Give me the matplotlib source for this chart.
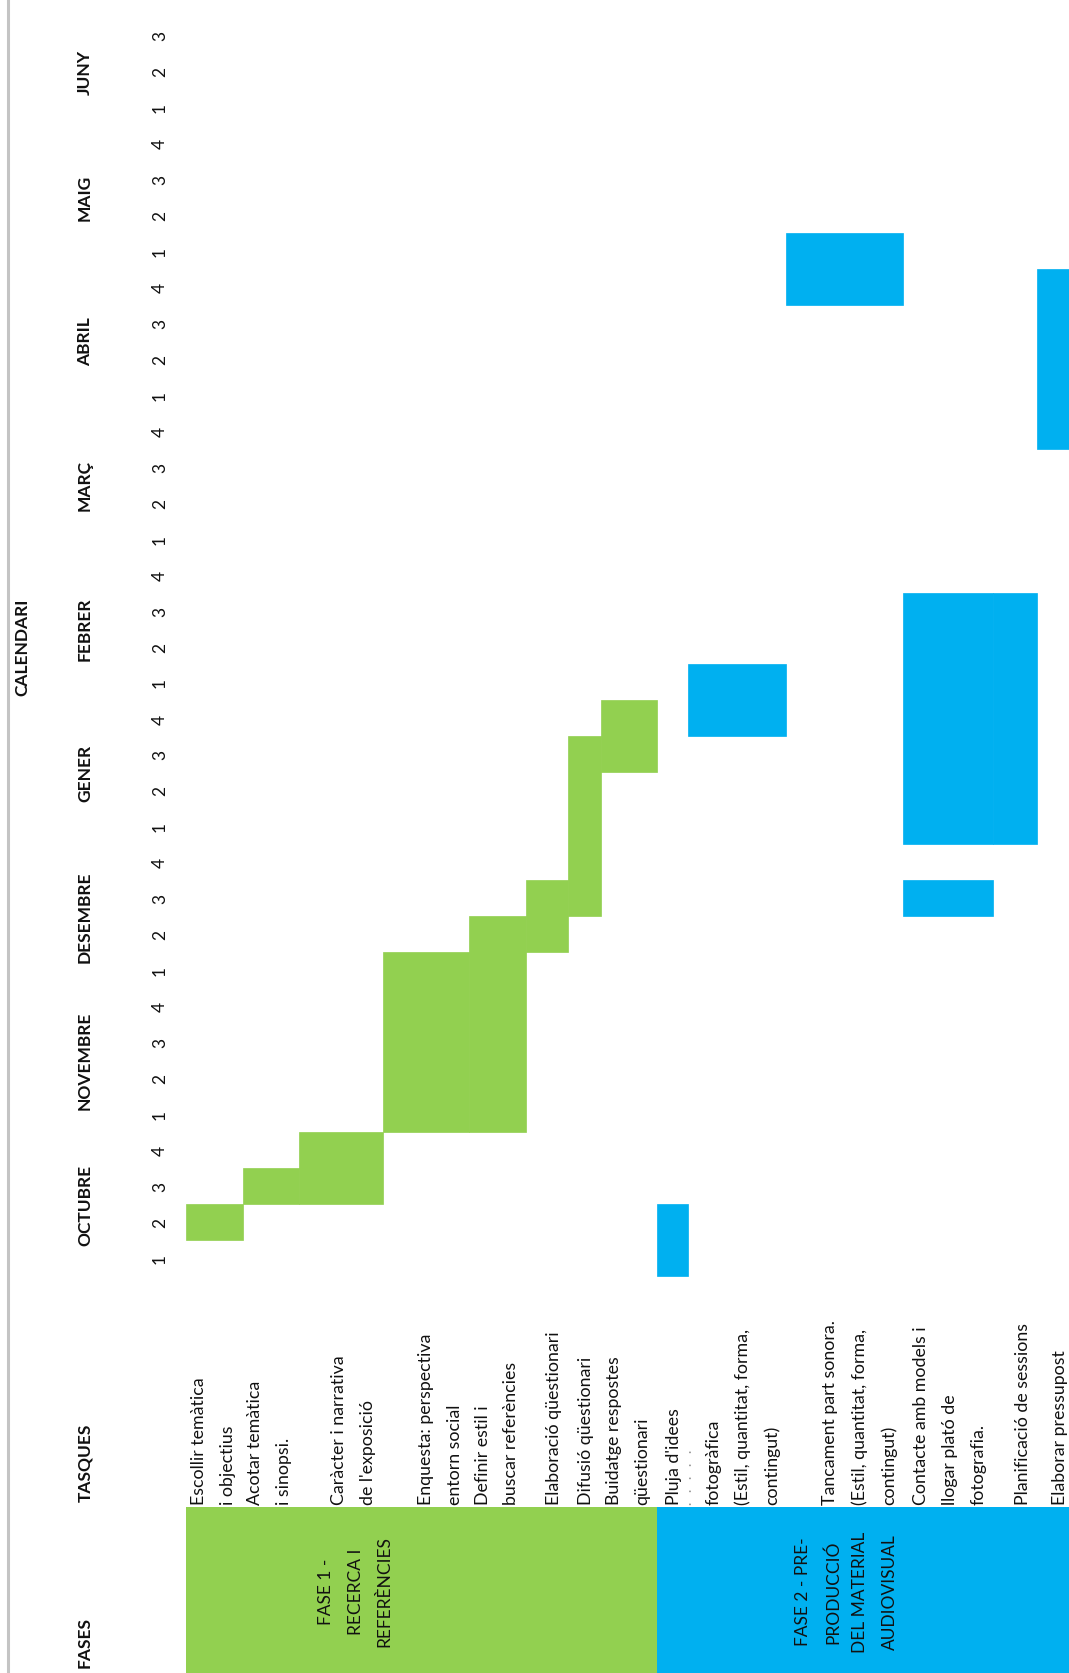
import matplotlib
matplotlib.use("Agg")
from matplotlib import pyplot as plt

plt.rcParams["font.family"] = ["Lato", "DejaVu Sans"]

# ---- data -------------------------------------------------------------
months = ["OCTUBRE", "NOVEMBRE", "DESEMBRE", "GENER", "FEBRER", "MARÇ", "ABRIL", "MAIG", "JUNY"]
weeks_per_month = [4, 4, 4, 4, 4, 4, 4, 4, 3]

phases = ["FASE 1 -\nRECERCA I\nREFERÈNCIES", "FASE 2 - PRE-\nPRODUCCIÓ\nDEL MATERIAL\nAUDIOVISUAL"]
phase_colors = ["#92D050", "#00B0F0"]

tasks = [
    ["Escollir temàtica", "i objectius"],
    ["Acotar temàtica", "i sinopsi."],
    ["Caràcter i narrativa", "de l'exposició"],
    ["Enquesta: perspectiva", "entorn social"],
    ["Definir estil i", "buscar referències"],
    ["Elaboració qüestionari"],
    ["Difusió qüestionari"],
    ["Buidatge respostes", "qüestionari"],
    ["Pluja d'idees"],
    ["fotogràfica", "(Estil, quantitat, forma,", "contingut)"],
    ["Tancament part sonora.", "(Estil, quantitat, forma,", "contingut)"],
    ["Contacte amb models i", "llogar plató de", "fotografia."],
    ["Planificació de sessions"],
    ["Elaborar pressupost"],
]
task_phase = [0, 0, 0, 0, 0, 0, 0, 0, 1, 1, 1, 1, 1, 1]

# (task index, first week, last week) ; week 0 = OCTUBRE 1
bars = [
    (0, 1, 1),
    (1, 2, 2),
    (2, 2, 3),
    (3, 4, 8),
    (4, 4, 9),
    (5, 9, 10),
    (6, 10, 14),
    (7, 14, 15),
    (8, 0, 1),
    (9, 15, 16),
    (10, 27, 28),
    (11, 10, 10),
    (11, 12, 18),
    (12, 12, 18),
    (13, 23, 27),
]

# ---- layout -----------------------------------------------------------
W, H = 1069, 1674
row_edges = [186, 243, 299, 383, 469, 526, 568, 601, 657, 688, 786, 903, 993, 1037, 1075]
W0_PX = 1259.0    # pixel row of week 0
WEEK_PX = 35.97   # pixels per week
LINE_PX = 29.0
TEXT_BASE = 1505  # where task text starts
TABLE_TOP = 1508


def wk(p):
    """pixel row -> week units"""
    return (W0_PX - p) / WEEK_PX


fig = plt.figure(figsize=(W / 100, H / 100), dpi=100)
ax = fig.add_axes([0, 0, 1, 1])
ax.set_xlim(0, W)
ax.set_ylim(wk(H), wk(0))
ax.axis("off")

ax.axvline(8, color="#c4c4c4", lw=2.2)

txt = "#111111"

# phase blocks
for i, (name, col) in enumerate(zip(phases, phase_colors)):
    idx = [k for k, p in enumerate(task_phase) if p == i]
    x0, x1 = row_edges[idx[0]], row_edges[idx[-1] + 1]
    ax.bar((x0 + x1) / 2, wk(TABLE_TOP) - wk(H + 20), bottom=wk(H + 20),
           width=x1 - x0, color=col, linewidth=0)

phase_text_x = [[326, 356, 384], [803, 833, 860, 890]]
for name, xs in zip(phases, phase_text_x):
    for line, x in zip(name.split("\n"), xs):
        ax.text(x, wk(1592), line, rotation=90, ha="center", va="center",
                fontsize=12.5, color=txt)

# task labels (bottom aligned in their cells)
for k, lines in enumerate(tasks):
    right = row_edges[k + 1]
    n = len(lines)
    for j, line in enumerate(lines):
        x = right - LINE_PX / 2 - LINE_PX * (n - 1 - j)
        ax.text(x, wk(TEXT_BASE), line, rotation=90, rotation_mode="anchor",
                ha="left", va="center", fontsize=12.8, color=txt)

# faint cut-off line under "Pluja d'idees"
ax.text(691, wk(TEXT_BASE), "·   ·   ·   ·   ·", rotation=90, rotation_mode="anchor",
        ha="left", va="center", fontsize=9, color="#9a9a9a")

# gantt bars
for k, start, end in bars:
    x0, x1 = row_edges[k], row_edges[k + 1]
    col = phase_colors[task_phase[k]]
    ax.bar((x0 + x1) / 2, end - start + 1, bottom=start - 0.5, width=x1 - x0,
           color=col, edgecolor=col, linewidth=0.5)

# week numbers and month names
w = 0
for m, n in zip(months, weeks_per_month):
    for i in range(n):
        ax.text(160, w + i, str(i + 1), rotation=90, ha="center", va="center",
                fontsize=12.5, color=txt)
    ax.text(85, w + (n - 1) / 2, m, rotation=90, ha="center", va="center",
            fontsize=12.5, fontweight="bold", color=txt)
    w += n

ax.text(22, (sum(weeks_per_month) - 1) / 2, "CALENDARI", rotation=90, ha="center",
        va="center", fontsize=12.5, fontweight="bold", color=txt)
ax.text(85, wk(1463), "TASQUES", rotation=90, ha="center", va="center",
        fontsize=12.5, fontweight="bold", color=txt)
ax.text(85, wk(1643), "FASES", rotation=90, ha="center", va="center",
        fontsize=12.5, fontweight="bold", color=txt)

fig.savefig("out.png", dpi=100)
